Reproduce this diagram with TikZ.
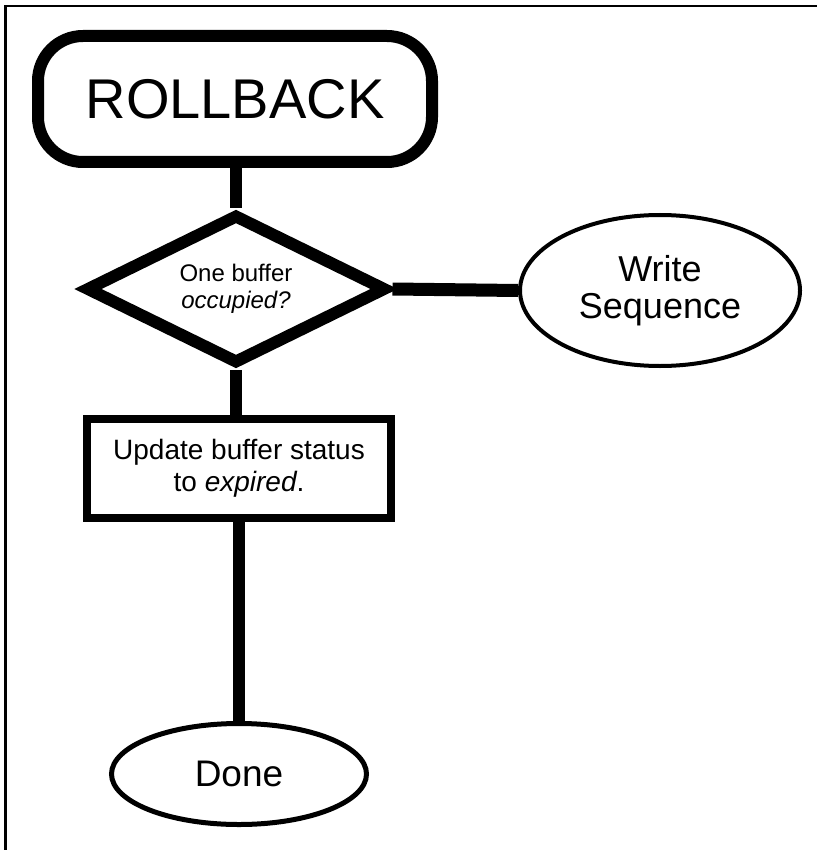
\documentclass[tikz,border=0pt]{standalone}
\usepackage{fontspec}
\setmainfont{Liberation Sans}
\usetikzlibrary{shapes.geometric}
\tikzset{startbox/.style = {draw, line width=12pt, rounded corners=45pt, minimum width=394pt, minimum height=126pt, inner sep=0pt, font=\fontsize{56}{60}\selectfont}}
\tikzset{decision/.style = {draw, diamond, aspect=2.1, line width=12pt, minimum width=301pt, minimum height=150pt, inner sep=0pt, align=center, font=\fontsize{24}{27}\selectfont}}
\tikzset{process/.style = {draw, rectangle, line width=8pt, minimum width=304pt, minimum height=99pt, inner sep=0pt, align=center, font=\fontsize{28}{32}\selectfont}}
\tikzset{terminal/.style = {draw, ellipse, inner sep=0pt, align=center}}
\tikzset{flow/.style = {line width=12pt}}

\begin{document}
\begin{tikzpicture}[x=1pt, y=-1pt]
                    \useasboundingbox (0,0) rectangle (817,850);

                    % frame on top and left
                    \draw [line width=2.5pt] (5.5,850) -- (5.5,6) -- (817,6);

                    \node [startbox] (rollback) at (235,99) {ROLLBACK};
                    \node [decision] (onebuf) at (236,289) {One buffer\\\textit{occupied?}};
                    \node [terminal, line width=4pt, minimum width=280pt, minimum height=151pt, font=\fontsize{36}{37}\selectfont] (writeseq) at (660,290.5) {Write\\Sequence};
                    \node [process] (update) at (239,468.5) {Update buffer status\\to \textit{expired}.};
                    \node [terminal, line width=5pt, minimum width=255pt, minimum height=101pt, font=\fontsize{37}{40}\selectfont] (done) at (239,774) {Done};

                    % Thick path rollback to decision
                    \draw [flow] (rollback.south -| onebuf.north) -- (onebuf.north);

                    % Thick path decision to write sequence
                    \draw [flow, line width=13pt] (onebuf.east) -- (writeseq.west);

                    % Thick path decision to update
                    \draw [flow] (onebuf.south) -- (onebuf.south |- update.north);

                    % Thick path update to done
                    \draw [flow] (update.south) -- (done.north);
                 \end{tikzpicture}
\end{document}
